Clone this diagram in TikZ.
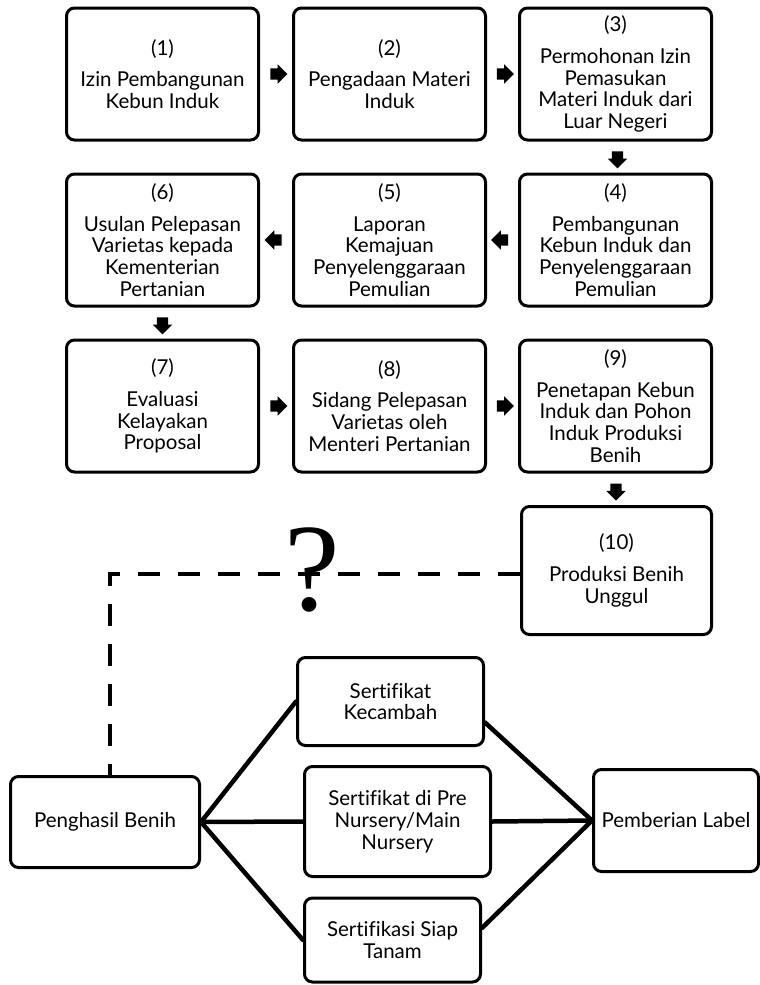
\documentclass[tikz,border=0pt]{standalone}
\usepackage{fontspec}
\setmainfont{Lato}[Ligatures=NoCommon]
\newfontfamily\qfont{Liberation Serif}
\usetikzlibrary{calc,shapes.arrows}

\begin{document}
\begin{tikzpicture}[x=1pt,y=-1pt,
  box/.style={draw, line width=3pt, rounded corners=8pt, align=center,
    inner sep=0pt, font=\fontsize{20.5}{21.8}\selectfont},
  stepbox/.style={box, minimum width=192pt, minimum height=132pt},
  blk/.style={single arrow, fill=black, draw=none, inner sep=5.5pt,
    single arrow head extend=4pt, minimum height=17pt},
  rarrow/.style={blk, shape border rotate=0},
  larrow/.style={blk, shape border rotate=180},
  darrow/.style={blk, shape border rotate=270},
  conn/.style={line width=4.5pt, line cap=round},
  dash line/.style={line width=4pt, dash pattern=on 22pt off 18pt}
]
\useasboundingbox (0,0) rectangle (760,985);

% process chain
\node[stepbox] (b1) at (162.5,74) {(1)\\[10pt]Izin Pembangunan\\Kebun Induk};
\node[stepbox] (b2) at (389.5,74) {(2)\\[10pt]Pengadaan Materi\\Induk};
\node[stepbox] (b3) at (615.5,74) {(3)\\[10pt]Permohonan Izin\\Pemasukan\\Materi Induk dari\\Luar Negeri};
\node[stepbox] (b4) at (615.5,240) {(4)\\[10pt]Pembangunan\\Kebun Induk dan\\Penyelenggaraan\\Pemulian};
\node[stepbox] (b5) at (389.5,240) {(5)\\[10pt]Laporan\\Kemajuan\\Penyelenggaraan\\Pemulian};
\node[stepbox] (b6) at (162.5,240) {(6)\\[10pt]Usulan Pelepasan\\Varietas kepada\\Kementerian\\Pertanian};
\node[stepbox] (b7) at (162.5,406) {(7)\\[10pt]Evaluasi\\Kelayakan\\Proposal};
\node[stepbox] (b8) at (389.5,406) {(8)\\[10pt]Sidang Pelepasan\\Varietas oleh\\Menteri Pertanian};
\node[stepbox] (b9) at (615.5,406) {(9)\\[10pt]Penetapan Kebun\\Induk dan Pohon\\Induk Produksi\\Benih};
\node[box, minimum width=190pt, minimum height=128pt] (b10) at (616.5,570.5)
  {(10)\\[10pt]Produksi Benih\\Unggul};

% arrows between steps
\node[rarrow] (a12) at ($(b1.east)!0.5!(b2.west)$) {};
\node[rarrow] (a23) at ($(b2.east)!0.5!(b3.west)$) {};
\node[darrow] (a34) at ($(b3.south)!0.5!(b4.north)+(2,0)$) {};
\node[larrow] (a45) at ($(b4.west)!0.5!(b5.east)$) {};
\node[larrow] (a56) at ($(b5.west)!0.5!(b6.east)$) {};
\node[darrow] (a67) at ($(b6.south)!0.5!(b7.north)$) {};
\node[rarrow] (a78) at ($(b7.east)!0.5!(b8.west)$) {};
\node[rarrow] (a89) at ($(b8.east)!0.5!(b9.west)$) {};
\node[darrow] (a910) at ($(b9.south)!0.5!(b10.north)$) {};

% certification stage
\node[box, minimum width=189pt, minimum height=91pt] (gen) at (105,822) {Penghasil Benih};
\node[box, minimum width=186pt, minimum height=88pt] (kec) at (390.5,701.5) {Sertifikat\\Kecambah};
\node[box, minimum width=186pt, minimum height=110pt] (mid) at (397.5,821.5) {Sertifikat di Pre\\Nursery/Main\\Nursery};
\node[box, minimum width=176pt, minimum height=84pt] (siap) at (392.5,940) {Sertifikasi Siap\\Tanam};
\node[box, minimum width=165pt, minimum height=102pt] (lab) at (676,820.5) {Pemberian Label};

\draw[conn] (gen.east) -- (kec.west);
\draw[conn] (gen.east) -- (mid.west);
\draw[conn] (gen.east) -- (siap.west);
\draw[conn] ($(kec.east)+(0,21)$) -- (lab.west);
\draw[conn] (mid.east) -- (lab.west);
\draw[conn] ($(siap.east)+(0,-12)$) -- (lab.west);

% uncertain link between the two stages
\coordinate (bend) at (110,574);
\draw[dash line] (b10.west |- bend) -- (bend) -- (bend |- gen.north);
\node[inner sep=0pt, font=\qfont\fontsize{125}{125}\selectfont] (q) at (312,570) {?};
\end{tikzpicture}
\end{document}
